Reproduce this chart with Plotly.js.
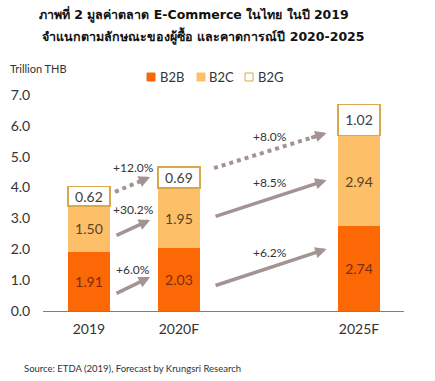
<!DOCTYPE html>
<html>
<head>
<meta charset="utf-8">
<script src="https://cdn.plot.ly/plotly-3.0.1.min.js"></script>
<style>html,body{margin:0;padding:0;background:#fff;}#chart{width:435px;height:381px;}</style>
</head>
<body>
<div id="chart"></div>
<script>
// ---- data ----
const categories = ['2019', '2020F', '2025F'];
const catPos = [0, 1, 3];               // 2025F sits further right (gap for 2021-2024)
const b2b = [1.91, 2.03, 2.74];
const b2c = [1.50, 1.95, 2.94];
const b2g = [0.62, 0.69, 1.02];
const seriesNames = ['B2B', 'B2C', 'B2G'];
const growthB2B = ['+6.0%', '+6.2%'];
const growthB2C = ['+30.2%', '+8.5%'];
const growthB2G = ['+12.0%', '+8.0%'];
const yTicks = [0, 1, 2, 3, 4, 5, 6, 7];
const titleLines = ['ภาพที่ 2 มูลค่าตลาด E-Commerce ในไทย ในปี 2019',
                    'จำแนกตามลักษณะของผู้ซื้อ และคาดการณ์ปี 2020-2025'];

// ---- styles ----
const FONT = 'Lato, "Open Sans", sans-serif';
const ARROW = '#a39393';
const colB2B = '#fc6806', colB2C = '#fdbf68', colB2G = '#ffffff', edgeB2G = '#d9a84e';

// plot area in pixels: x 43..404, y 95..311
const px = v => (v - 43) / 361;
const py = v => (311 - v) / 216;

const fmt = v => v.toFixed(2);
const mk = (name, vals, fill, edge, ew, tc) => ({
  name, x: catPos, y: vals, type: 'bar', width: 0.47,
  marker: {color: fill, line: {color: edge, width: ew}},
  text: vals.map(fmt), textposition: 'inside', insidetextanchor: 'middle', constraintext: 'none',
  textfont: {family: FONT, size: 14, color: tc}, hoverinfo: 'none', showlegend: false
});
const traces = [
  mk(seriesNames[0], b2b, colB2B, colB2B, 0, '#7a2c0c'),
  mk(seriesNames[1], b2c, colB2C, colB2C, 0, '#5a4222'),
  mk(seriesNames[2], b2g, colB2G, edgeB2G, 1.5, '#404040')
];

// growth arrows: [tailX, tailY, headX, headY] in data units
const arrowsSolid = [
  [0.29, 0.55, 0.68, 1.10],
  [0.29, 2.43, 0.68, 2.95],
  [1.39, 0.81, 2.64, 2.01],
  [1.39, 3.05, 2.64, 4.24]
];
const arrowsDotted = [
  [0.29, 3.86, 0.68, 4.34],
  [1.39, 4.63, 2.64, 5.77]
];
const labelPos = {
  B2B: [[0.49, 1.36], [2.01, 1.90]],
  B2C: [[0.49, 3.30], [2.01, 4.17]],
  B2G: [[0.49, 4.66], [2.01, 5.66]]
};

const annotations = [];
const shapes = [];
arrowsSolid.forEach(a => annotations.push({
  x: a[2], y: a[3], ax: a[0], ay: a[1], xref: 'x', yref: 'y', axref: 'x', ayref: 'y',
  text: '', showarrow: true, arrowhead: 2, arrowsize: 0.65, arrowwidth: 3.5, arrowcolor: ARROW
}));
arrowsDotted.forEach(a => {
  const f = 0.9;
  shapes.push({type: 'line', xref: 'x', yref: 'y',
    x0: a[0], y0: a[1], x1: a[0] + (a[2] - a[0]) * f, y1: a[1] + (a[3] - a[1]) * f,
    line: {color: ARROW, width: 4, dash: 'dot'}});
  annotations.push({
    x: a[2], y: a[3], ax: a[0] + (a[2] - a[0]) * 0.85, ay: a[1] + (a[3] - a[1]) * 0.85,
    xref: 'x', yref: 'y', axref: 'x', ayref: 'y',
    text: '', showarrow: true, arrowhead: 2, arrowsize: 0.65, arrowwidth: 3.5, arrowcolor: ARROW});
});
[['B2B', growthB2B], ['B2C', growthB2C], ['B2G', growthB2G]].forEach(([k, g]) => {
  g.forEach((t, i) => annotations.push({
    x: labelPos[k][i][0], y: labelPos[k][i][1], xref: 'x', yref: 'y', text: t,
    showarrow: false, font: {family: FONT, size: 12, color: '#333'}
  }));
});

// title (two lines)
const TFONT = {family: 'Tahoma, "DejaVu Sans", "Noto Sans", sans-serif', size: 12.5, color: '#111'};
[[titleLines[0], 15, 194], [titleLines[1], 36, 203]].forEach(([t, y, x]) => annotations.push({
  text: '<b>' + t + '</b>', xref: 'paper', yref: 'paper', x: px(x), y: py(y),
  xanchor: 'center', yanchor: 'middle', showarrow: false, font: TFONT
}));

// legend (custom, small squares as in the reference)
const legendItems = [
  {name: seriesNames[0], sq: 147, tx: 158, fill: colB2B, edge: colB2B},
  {name: seriesNames[1], sq: 197, tx: 207, fill: colB2C, edge: colB2C},
  {name: seriesNames[2], sq: 245, tx: 256, fill: colB2G, edge: edgeB2G}
];
legendItems.forEach(it => {
  shapes.push({type: 'rect', xref: 'paper', yref: 'paper',
    x0: px(it.sq), x1: px(it.sq + 8), y0: py(81), y1: py(73),
    fillcolor: it.fill, line: {color: it.edge, width: 1}});
  annotations.push({text: it.name, xref: 'paper', yref: 'paper', x: px(it.tx), y: py(77),
    xanchor: 'left', yanchor: 'middle', showarrow: false,
    font: {family: FONT, size: 13, color: '#333'}});
});

annotations.push({
  text: 'Trillion THB', xref: 'paper', yref: 'paper', x: px(8), y: py(69),
  xanchor: 'left', yanchor: 'middle', showarrow: false,
  font: {family: FONT, size: 11, color: '#333'}
});
annotations.push({
  text: 'Source: ETDA (2019), Forecast by Krungsri Research', xref: 'paper', yref: 'paper',
  x: px(22), y: py(368), xanchor: 'left', yanchor: 'middle', showarrow: false,
  font: {family: FONT, size: 9.5, color: '#333'}
});

const layout = {
  width: 435, height: 381,
  margin: {l: 43, r: 31, t: 95, b: 70},
  paper_bgcolor: '#fff', plot_bgcolor: '#fff',
  barmode: 'stack',
  showlegend: false,
  xaxis: {
    range: [-0.51, 3.5], tickvals: catPos, ticktext: categories,
    showgrid: false, zeroline: false, showline: true, linecolor: '#808080', linewidth: 1,
    ticks: 'outside', ticklen: 5, tickcolor: 'rgba(0,0,0,0)',
    tickfont: {family: FONT, size: 14, color: '#333'}, fixedrange: true
  },
  yaxis: {
    range: [0, 7.0], tickvals: yTicks, ticktext: yTicks.map(v => v.toFixed(1)),
    showgrid: false, zeroline: false, showline: false,
    ticks: 'outside', ticklen: 9, tickcolor: 'rgba(0,0,0,0)',
    tickfont: {family: FONT, size: 14, color: '#333'}, fixedrange: true
  },
  annotations: annotations,
  shapes: shapes
};

Plotly.newPlot('chart', traces, layout, {displayModeBar: false, staticPlot: true});
</script>
</body>
</html>
